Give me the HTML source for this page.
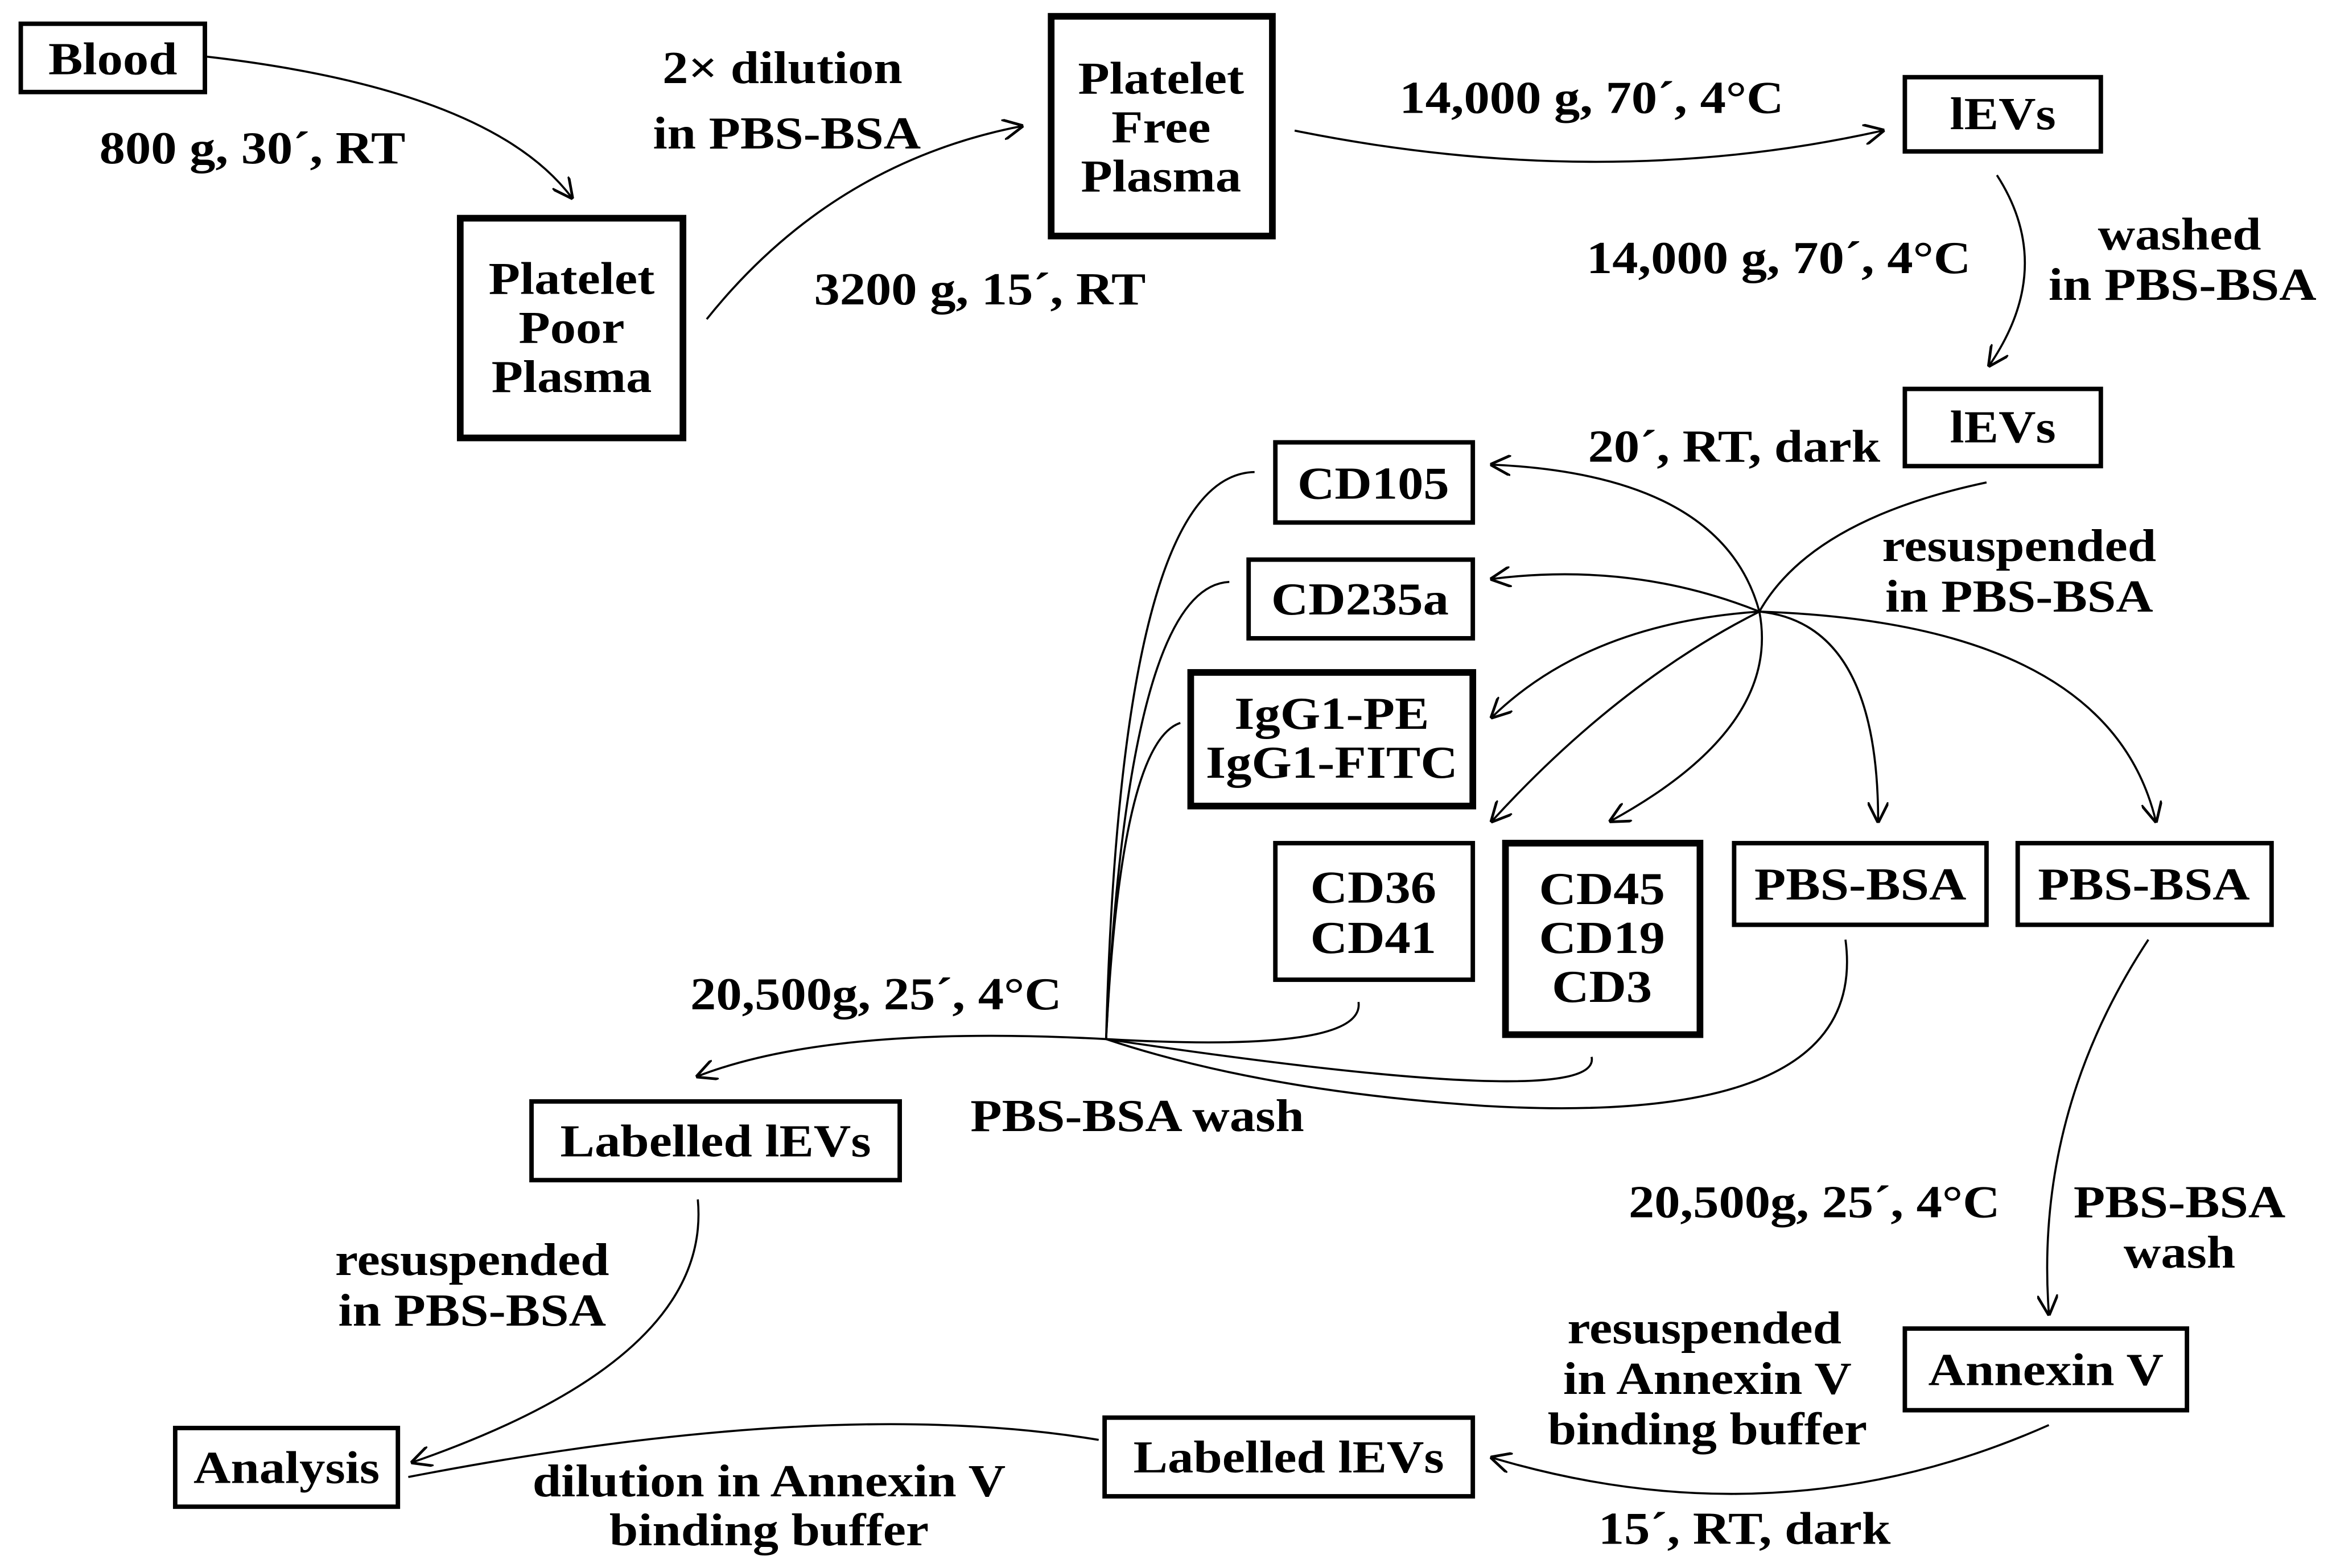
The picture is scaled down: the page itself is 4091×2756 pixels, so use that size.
<!DOCTYPE html>
<html><head><meta charset="utf-8"><style>
html,body{margin:0;padding:0;background:#fff;}
svg{display:block;}
text{font-family:"Liberation Serif",serif;font-weight:bold;font-size:31px;fill:#000;text-anchor:middle;transform-box:fill-box;transform-origin:center;transform:scaleX(1.12);}
.b{fill:#fff;stroke:#000;stroke-width:3;}
.t{fill:#fff;stroke:#000;stroke-width:4.5;}
.c{fill:none;stroke:#000;stroke-width:1.4;}
</style></head><body>
<svg width="4091" height="2756" viewBox="0 0 1568 1056.3" preserveAspectRatio="none" xmlns="http://www.w3.org/2000/svg">
<defs><marker id="a" viewBox="0 0 10 10" refX="9" refY="5" markerWidth="14" markerHeight="14" markerUnits="userSpaceOnUse" orient="auto"><path d="M0,0 L10,5 L0,10" fill="none" stroke="#000" stroke-width="1.3"/></marker></defs>

<rect class="b" x="14" y="16" width="124" height="46"/><text x="76" y="50">Blood</text>
<rect class="t" x="310" y="147" width="150" height="148"/><text x="385" y="198">Platelet</text><text x="385" y="231">Poor</text><text x="385" y="264">Plasma</text>
<rect class="t" x="708" y="11" width="149" height="148"/><text x="782" y="63">Platelet</text><text x="782" y="96">Free</text><text x="782" y="129">Plasma</text>
<rect class="b" x="1283" y="52" width="132" height="50"/><text x="1349" y="87">lEVs</text>
<rect class="b" x="1283" y="262" width="132" height="52"/><text x="1349" y="298">lEVs</text>
<rect class="b" x="859" y="298" width="133" height="54"/><text x="925" y="336">CD105</text>
<rect class="b" x="841" y="377" width="151" height="53"/><text x="916" y="414">CD235a</text>
<rect class="t" x="802" y="453" width="190" height="90"/><text x="897" y="491">IgG1-PE</text><text x="897" y="524">IgG1-FITC</text>
<rect class="b" x="859" y="568" width="133" height="92"/><text x="925" y="608">CD36</text><text x="925" y="642">CD41</text>
<rect class="t" x="1014" y="568" width="131" height="129"/><text x="1079" y="609">CD45</text><text x="1079" y="642">CD19</text><text x="1079" y="675">CD3</text>
<rect class="b" x="1168" y="568" width="170" height="55"/><text x="1253" y="606">PBS-BSA</text>
<rect class="b" x="1359" y="568" width="171" height="55"/><text x="1444" y="606">PBS-BSA</text>
<rect class="b" x="358" y="742" width="248" height="53"/><text x="482" y="779">Labelled lEVs</text>
<rect class="b" x="118" y="962" width="150" height="53"/><text x="193" y="999">Analysis</text>
<rect class="b" x="744" y="955" width="248" height="53"/><text x="868" y="992">Labelled lEVs</text>
<rect class="b" x="1283" y="895" width="190" height="55"/><text x="1378" y="933">Annexin V</text>

<text x="170" y="110">800 g, 30´, RT</text>
<text x="527" y="56">2× dilution</text><text x="530" y="100">in PBS-BSA</text>
<text x="660" y="205">3200 g, 15´, RT</text>
<text x="1072" y="76">14,000 g, 70´, 4°C</text>
<text x="1198" y="184">14,000 g, 70´, 4°C</text>
<text x="1468" y="168">washed</text><text x="1470" y="202">in PBS-BSA</text>
<text x="1168" y="311">20´, RT, dark</text>
<text x="1360" y="378">resuspended</text><text x="1360" y="412">in PBS-BSA</text>
<text x="590" y="680">20,500g, 25´, 4°C</text>
<text x="766" y="762">PBS-BSA wash</text>
<text x="318" y="859">resuspended</text><text x="318" y="893">in PBS-BSA</text>
<text x="1222" y="820">20,500g, 25´, 4°C</text>
<text x="1468" y="820">PBS-BSA</text><text x="1468" y="854">wash</text>
<text x="1148" y="905">resuspended</text><text x="1150" y="939">in Annexin V</text><text x="1150" y="973">binding buffer</text>
<text x="518" y="1008">dilution in Annexin V</text><text x="518" y="1041">binding buffer</text>
<text x="1175" y="1040">15´, RT, dark</text>

<path class="c" marker-end="url(#a)" d="M138,38 Q330,60 385,133"/>
<path class="c" marker-end="url(#a)" d="M476,215 Q560,110 688,85"/>
<path class="c" marker-end="url(#a)" d="M872,88 Q1080,130 1268,88"/>
<path class="c" marker-end="url(#a)" d="M1345,118 Q1385,180 1340,246"/>
<path class="c" d="M1338,325 Q1220,350 1185,412"/>
<path class="c" marker-end="url(#a)" d="M1185,412 Q1160,320 1005,313"/>
<path class="c" marker-end="url(#a)" d="M1185,412 Q1100,378 1005,390"/>
<path class="c" marker-end="url(#a)" d="M1185,412 Q1070,420 1005,483"/>
<path class="c" marker-end="url(#a)" d="M1185,412 Q1090,460 1005,553"/>
<path class="c" marker-end="url(#a)" d="M1185,412 Q1200,490 1085,553"/>
<path class="c" marker-end="url(#a)" d="M1185,412 Q1265,420 1265,553"/>
<path class="c" marker-end="url(#a)" d="M1185,412 Q1420,420 1452,553"/>
<path class="c" d="M845,318 Q755,320 745,700"/>
<path class="c" d="M828,392 Q760,395 745,700"/>
<path class="c" d="M795,487 Q755,500 745,700"/>
<path class="c" d="M915,675 Q920,710 745,700"/>
<path class="c" d="M1072,712 Q1080,750 745,700"/>
<path class="c" d="M1243,633 Q1260,760 1000,745 Q850,735 745,700"/>
<path class="c" marker-end="url(#a)" d="M745,700 Q560,690 470,725"/>
<path class="c" marker-end="url(#a)" d="M470,808 Q480,915 278,985"/>
<path class="c" d="M740,970 Q560,940 275,995"/>
<path class="c" marker-end="url(#a)" d="M1447,633 Q1370,750 1380,885"/>
<path class="c" marker-end="url(#a)" d="M1380,960 Q1200,1040 1005,982"/>
</svg>
</body></html>
